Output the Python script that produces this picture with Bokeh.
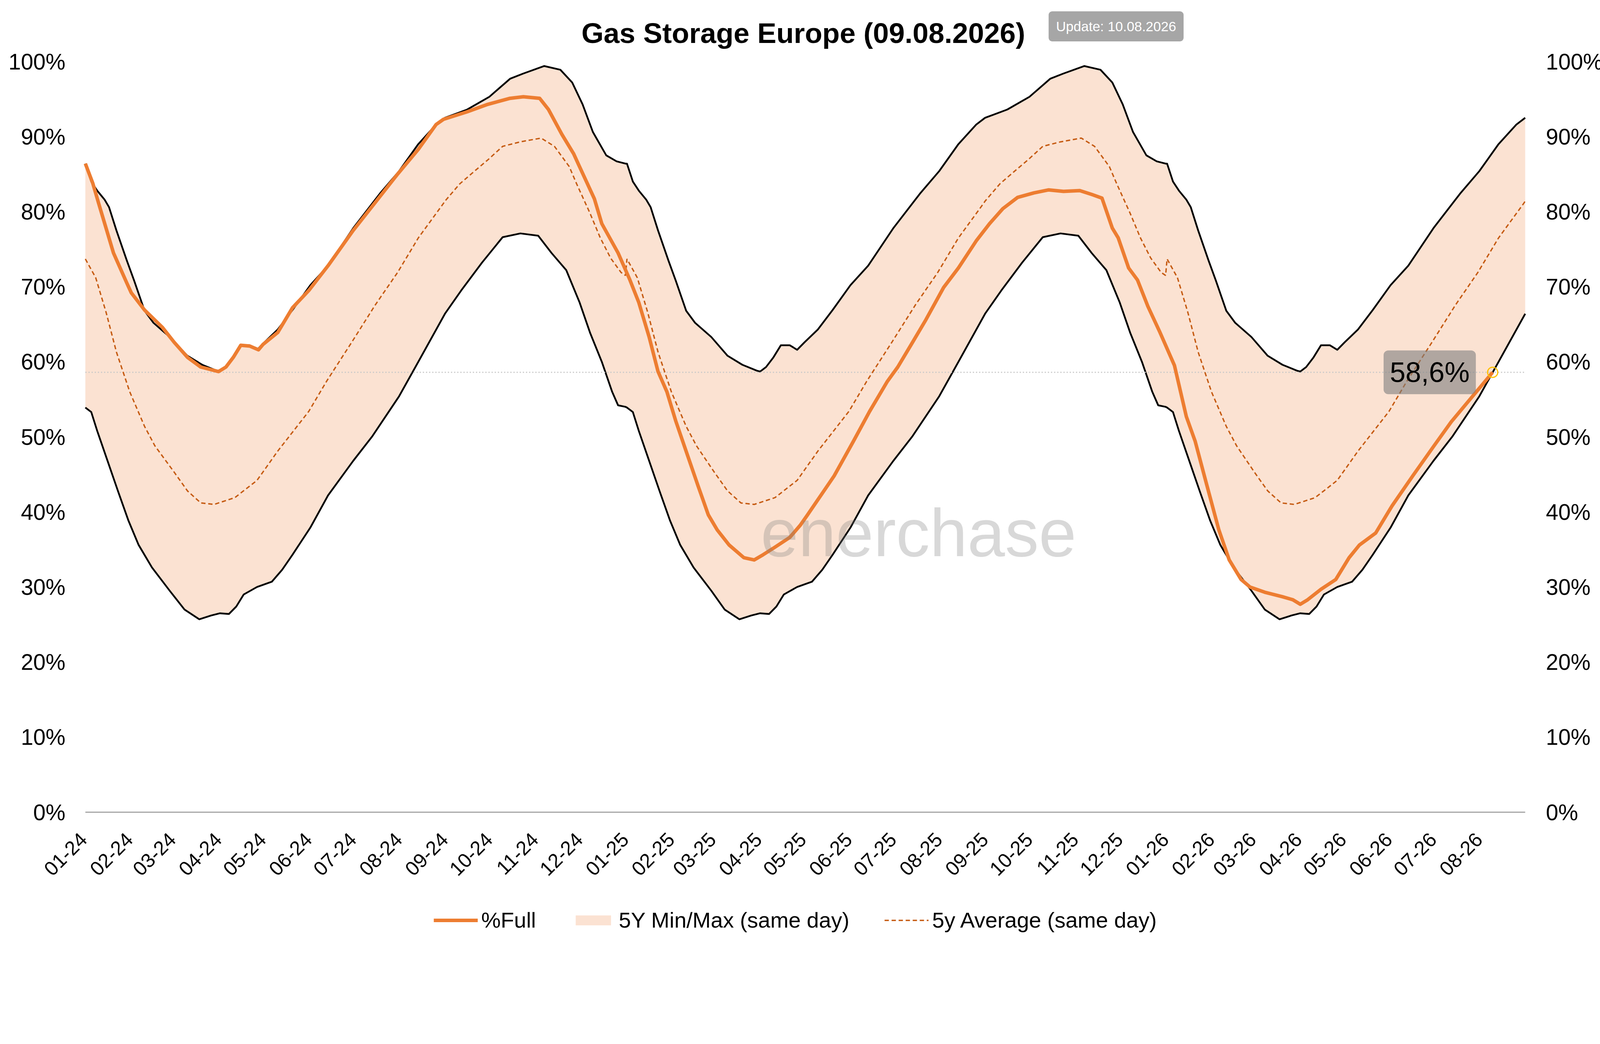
import math
import pandas as pd
from bokeh.plotting import figure
from bokeh.core.properties import value
from bokeh.models import Range1d, Label, Legend, LegendItem
from bokeh.embed import file_html
from bokeh.resources import INLINE

title_text = "Gas Storage Europe (09.08.2026)"
update_text = "Update: 10.08.2026"
years = [2024, 2025, 2026]
x_start = "2024-01-01"
x_end = "2026-08-31"
y_ticks = [0, 10, 20, 30, 40, 50, 60, 70, 80, 90, 100]
y_tick_labels = [f"{t}%" for t in y_ticks]
tick_months = pd.date_range(x_start, x_end, freq="MS")
tick_labels = [d.strftime("%m-%y") for d in tick_months]

# 5Y same-day statistics, one calendar-year profile (month-day, % full)
max_md = ["01-01", "01-05", "01-09", "01-14", "01-17", "01-22", "01-29", "02-03", "02-10", "02-16",
          "02-27", "03-10", "03-20", "03-30", "04-01", "04-05", "04-10", "04-15", "04-21", "04-26",
          "05-01", "05-10", "05-20", "06-01", "06-13", "06-30", "07-18", "07-31", "08-13", "08-25",
          "08-31", "09-15", "09-30", "10-14", "10-23", "11-06", "11-17", "11-25", "12-02", "12-09",
          "12-18", "12-25", "12-31"]
max_pct = [86.4, 84.0, 82.8, 81.6, 80.6, 77.5, 73.5, 70.8, 66.8, 65.2,
           63.3, 60.8, 59.6, 58.8, 58.7, 59.3, 60.6, 62.2, 62.2, 61.6,
           62.6, 64.3, 66.9, 70.2, 72.8, 77.8, 82.4, 85.4, 89.0, 91.6,
           92.5, 93.6, 95.3, 97.7, 98.4, 99.4, 98.9, 97.2, 94.3, 90.6,
           87.5, 86.7, 86.4]

min_md = ["01-01", "01-05", "01-09", "01-16", "01-23", "01-30", "02-06", "02-15", "02-27", "03-08",
          "03-18", "03-26", "04-01", "04-07", "04-12", "04-17", "04-26", "05-06", "05-13", "05-20",
          "06-01", "06-13", "06-30", "07-13", "07-31", "08-13", "08-31", "09-11", "09-25", "10-09",
          "10-21", "11-02", "11-11", "11-21", "11-30", "12-07", "12-15", "12-22", "12-26", "12-31"]
min_pct = [53.9, 53.3, 50.8, 46.8, 42.8, 38.9, 35.6, 32.6, 29.5, 27.0,
           25.7, 26.2, 26.5, 26.4, 27.4, 29.0, 30.0, 30.7, 32.3, 34.3,
           37.9, 42.2, 46.8, 50.1, 55.4, 60.0, 66.4, 69.5, 73.2, 76.6,
           77.1, 76.8, 74.5, 72.2, 67.9, 63.9, 60.0, 56.0, 54.2, 54.0]

avg_md = ["01-01", "01-08", "01-15", "01-22", "01-31", "02-10", "02-17", "03-01", "03-10", "03-19",
          "03-28", "04-11", "04-26", "05-10", "05-31", "06-12", "06-29", "07-15", "07-30", "08-13",
          "08-30", "08-31", "09-10", "09-20", "09-29", "10-09", "10-21", "11-04", "11-13", "11-23",
          "11-28", "12-07", "12-14", "12-21", "12-28", "12-31"]
avg_pct = [73.7, 71.2, 66.6, 61.3, 56.0, 51.4, 48.8, 45.3, 42.8, 41.2,
           41.0, 41.9, 44.2, 48.1, 53.4, 57.4, 62.6, 67.6, 71.9, 76.5,
           81.1, 81.4, 83.7, 85.4, 86.9, 88.7, 89.3, 89.8, 88.7, 86.0,
           83.7, 79.8, 76.5, 73.8, 71.9, 71.5]

# %Full
full_dates = ["2024-01-01", "2024-01-06", "2024-01-10", "2024-01-20", "2024-01-29", "2024-02-01",
              "2024-02-10", "2024-02-22", "2024-03-01", "2024-03-10", "2024-03-19", "2024-03-31",
              "2024-04-05", "2024-04-10", "2024-04-15", "2024-04-21", "2024-04-27", "2024-04-30",
              "2024-05-10", "2024-05-20", "2024-05-31", "2024-06-13", "2024-06-30", "2024-07-30",
              "2024-08-13", "2024-08-25", "2024-08-30", "2024-09-15", "2024-09-29", "2024-10-14",
              "2024-10-23", "2024-11-03", "2024-11-09", "2024-11-18", "2024-11-26", "2024-11-29",
              "2024-12-10", "2024-12-15", "2024-12-26",
              "2025-01-03", "2025-01-09", "2025-01-16", "2025-01-22", "2025-01-28", "2025-02-03",
              "2025-02-11", "2025-02-18", "2025-02-25", "2025-03-03", "2025-03-11", "2025-03-21",
              "2025-03-28", "2025-04-03", "2025-04-11", "2025-04-21", "2025-04-28", "2025-05-03",
              "2025-05-12", "2025-05-21", "2025-06-03", "2025-06-14", "2025-06-26", "2025-07-03",
              "2025-07-13", "2025-07-22", "2025-08-03", "2025-08-13", "2025-08-25", "2025-09-03",
              "2025-09-12", "2025-09-22", "2025-10-03", "2025-10-13", "2025-10-23", "2025-11-03",
              "2025-11-11", "2025-11-18", "2025-11-25", "2025-11-29", "2025-12-06", "2025-12-12",
              "2025-12-19", "2025-12-27",
              "2026-01-06", "2026-01-14", "2026-01-20", "2026-01-27", "2026-02-05", "2026-02-12",
              "2026-02-20", "2026-02-26", "2026-03-08", "2026-03-20", "2026-03-27", "2026-04-01",
              "2026-04-06", "2026-04-15", "2026-04-25", "2026-05-04", "2026-05-11", "2026-05-22",
              "2026-06-02", "2026-06-16", "2026-06-30", "2026-07-12", "2026-07-26", "2026-08-09"]
full_pct = [86.4, 83.8, 81.1, 74.5, 70.5, 69.2,
            66.9, 64.6, 62.6, 60.6, 59.3, 58.7,
            59.3, 60.6, 62.2, 62.1, 61.6, 62.3,
            63.9, 67.2, 69.5, 72.8, 77.5, 85.0,
            88.3, 91.6, 92.3, 93.3, 94.3, 95.1,
            95.3, 95.1, 93.6, 90.3, 87.7, 86.4,
            81.7, 78.4, 74.5,
            70.9, 67.9, 63.3, 58.7, 56.0, 52.1,
            47.5, 43.5, 39.6, 37.6, 35.6, 33.9,
            33.6, 34.3, 35.3, 36.6, 38.2, 39.6,
            42.2, 44.8, 49.4, 53.4, 57.4, 59.3,
            62.6, 65.6, 69.9, 72.5, 76.1, 78.4,
            80.4, 81.9, 82.5, 82.9, 82.7, 82.8,
            82.3, 81.8, 77.8, 76.5, 72.5, 70.9,
            67.4, 64.0,
            59.5, 52.7, 49.4, 44.2, 37.6, 33.6,
            31.0, 30.0, 29.3, 28.7, 28.3, 27.7,
            28.3, 29.7, 31.0, 33.9, 35.6, 37.2,
            40.8, 44.8, 48.7, 52.0, 55.3, 58.6]

FONT = "Liberation Sans"
ORANGE = "#ED7D31"
AVG_COL = "#C55A11"
BAND_COL = "#F8CBAD"
AXIS_COL = "#a6a6a6"

# layout (px): one frame covering the whole canvas, the data area sits inside it
W, H = 4125, 2388
DATA_L, DATA_R = 218, 3904             # px from left of Jan 1 2024 / Aug 31 2026
TOP_100, BOTTOM_0 = 157, 2079          # px from top of the 100 % / 0 % lines
PX_PER_PCT = (BOTTOM_0 - TOP_100) / 100
Y_TOP = 100 + TOP_100 / PX_PER_PCT
Y_BOT = -(H - BOTTOM_0) / PX_PER_PCT


def ms(d):
    return pd.Timestamp(d).value / 1e6


MS_PER_PX = (ms(x_end) - ms(x_start)) / (DATA_R - DATA_L)


def by_year(md_list, values):
    xs, ys = [], []
    end = pd.Timestamp(x_end)
    for yr in years:
        for md, v in zip(md_list, values):
            d = pd.Timestamp(f"{yr}-{md}")
            if d <= end:
                xs.append(ms(d))
                ys.append(v)
    return xs, ys


max_x, max_y = by_year(max_md, max_pct)
min_x, min_y = by_year(min_md, min_pct)
avg_x, avg_y = by_year(avg_md, avg_pct)
full_x = [ms(d) for d in full_dates]
tick_x = [ms(d) for d in tick_months]
x0, x1 = ms(x_start), ms(x_end)

p = figure(frame_width=W, frame_height=H,
           x_range=Range1d(x0 - DATA_L * MS_PER_PX, x1 + (W - DATA_R) * MS_PER_PX),
           y_range=Range1d(Y_BOT, Y_TOP), title=None,
           x_axis_location=None, y_axis_location=None,
           output_backend="svg", toolbar_location=None, tools="",
           min_border_left=0, min_border_right=0, min_border_top=0, min_border_bottom=0)
p.outline_line_color = None
p.xgrid.grid_line_color = None
p.ygrid.grid_line_color = None

# band
band = p.patch(x=max_x + min_x[::-1], y=max_y + min_y[::-1], fill_color=BAND_COL, fill_alpha=0.55,
               line_color=None)
p.line(max_x, max_y, line_color="black", line_width=4.5, line_join="round")
p.line(min_x, min_y, line_color="black", line_width=4.5, line_join="round")

last_val = full_pct[-1]
p.line([x0, x1], [last_val, last_val], line_color="#c8c8c8", line_width=3, line_dash="3 5")

avg_r = p.line(avg_x, avg_y, line_color=AVG_COL, line_width=3.5, line_dash="11 7")
full_r = p.line(full_x, full_pct, line_color=ORANGE, line_width=9, line_join="round")
p.scatter([full_x[-1]], [last_val], size=26, fill_color=None, line_color="#FFC000", line_width=3)

# value tag, its right edge ~27 px left of the last point
p.add_layout(Label(x=full_x[-1] - 43 * MS_PER_PX, y=last_val,
                   text=f"{last_val:.1f}%".replace(".", ","), text_align="right",
                   text_baseline="middle", text_font=FONT, text_font_size="72px", text_color="black",
                   background_fill_color="#7f7f7f", background_fill_alpha=0.6,
                   padding=16, border_radius=12))

# watermark
p.add_layout(Label(x=1947, y=H - 1363, x_units="screen", y_units="screen",
                   text="enerchase", text_font=FONT, text_font_size="173px", text_color="#7f7f7f",
                   text_alpha=0.3, text_baseline="alphabetic"))

# title and update badge, above the 100 % line
p.add_layout(Label(x=2056, y=H - 84, x_units="screen", y_units="screen", text=title_text,
                   text_font=FONT, text_font_size="73px", text_font_style="bold", text_color="black",
                   text_align="center", text_baseline="alphabetic"))
p.add_layout(Label(x=2684, y=H - 67, x_units="screen", y_units="screen", text=update_text,
                   text_font=FONT, text_font_size="35px", text_color="white", text_baseline="middle",
                   background_fill_color=AXIS_COL, padding=19, border_radius=9))

# x axis: base line and rotated month labels
p.line([x0, x1], [0, 0], line_color=AXIS_COL, line_width=3)
p.text(x=tick_x, y=[-61 / PX_PER_PCT] * len(tick_x), text=tick_labels, angle=math.pi / 4,
       x_offset=-5, text_align="right", text_baseline="middle", text_font=value(FONT),
       text_font_size=value("51px"), text_color="black")

# y axes, left and right
p.text(x=[x0] * len(y_ticks), y=y_ticks, text=y_tick_labels, x_offset=-51, text_align="right",
       text_baseline="middle", text_font=value(FONT), text_font_size=value("57px"),
       text_color="black")
p.text(x=[x1] * len(y_ticks), y=y_ticks, text=y_tick_labels, x_offset=53, text_align="left",
       text_baseline="middle", text_font=value(FONT), text_font_size=value("57px"),
       text_color="black")

legend = Legend(items=[LegendItem(label="%Full", renderers=[full_r]),
                       LegendItem(label="5Y Min/Max (same day)", renderers=[band]),
                       LegendItem(label="5y Average (same day)", renderers=[avg_r])],
                orientation="horizontal", location=(1110, 0), label_text_font=FONT,
                label_text_font_size="56px", label_text_color="black", glyph_width=113,
                glyph_height=32, spacing=90, label_standoff=9, border_line_color=None,
                background_fill_alpha=0, margin=0, padding=0)
p.add_layout(legend, "center")

open("out.html", "w").write(file_html(p, INLINE))
